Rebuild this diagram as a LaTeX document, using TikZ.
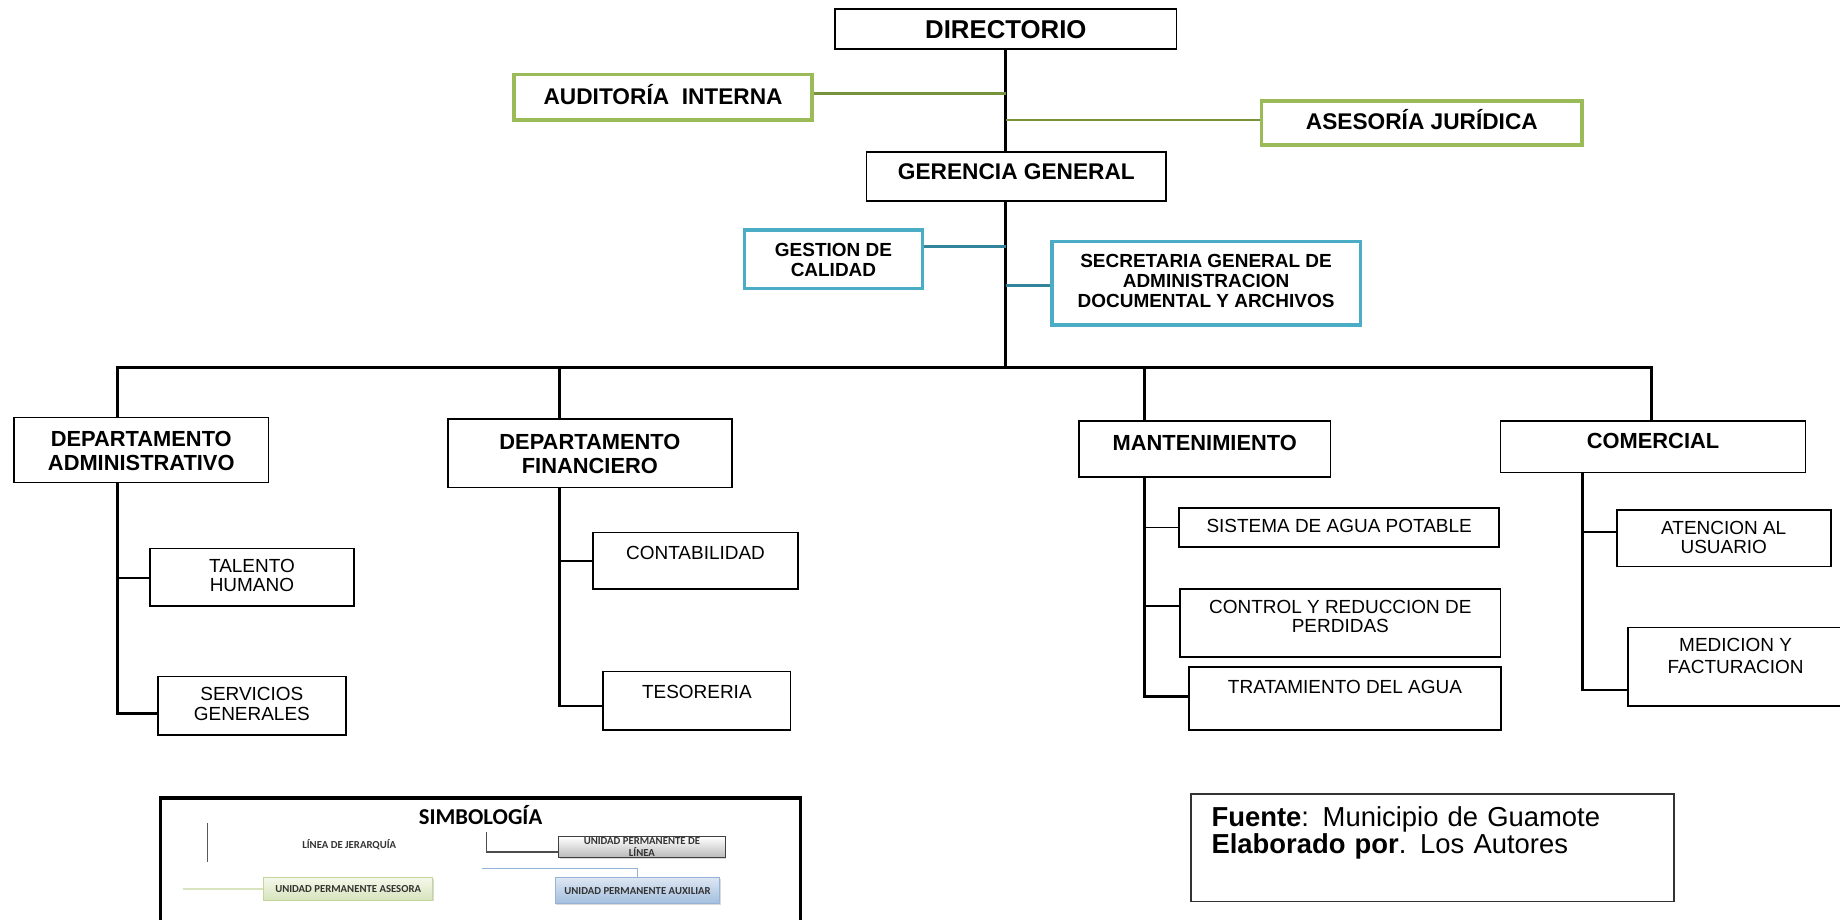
\documentclass[tikz,border=0pt]{standalone}
\usepackage{fontspec}
\setmainfont{Liberation Sans}
\newfontfamily\legfont{Carlito}
\usepackage{xcolor}
\usepackage{tikz}
\usetikzlibrary{shadows}

\definecolor{asegreen}{HTML}{9BBB59}
\definecolor{aseolive}{HTML}{77933C}
\definecolor{auxblue}{HTML}{4BACC6}
\definecolor{auxteal}{HTML}{31849B}
\definecolor{legblueA}{HTML}{DCE6F2}
\definecolor{legblueB}{HTML}{A3BEDD}
\definecolor{legblueC}{HTML}{95B3D7}
\definecolor{leggreenA}{HTML}{F4F8EA}
\definecolor{leggreenB}{HTML}{D7E4BD}
\definecolor{leggreenC}{HTML}{C3D69B}

\begin{document}
\begin{tikzpicture}[x=0.02cm, y=-0.02cm,
  orgbox/.style={draw, line width=0.8pt, anchor=north west, inner xsep=0pt, inner ysep=0pt, align=center},
  head/.style={orgbox, font=\bfseries\fontsize{11}{13}\selectfont},
  asebox/.style={orgbox, draw=asegreen, line width=1.7pt, font=\bfseries\fontsize{11}{13}\selectfont},
  auxbox/.style={orgbox, draw=auxblue, line width=1.7pt, font=\bfseries\fontsize{9.2}{9.7}\selectfont},
  dept/.style={orgbox, font=\bfseries\fontsize{10.6}{11.8}\selectfont},
  subunit/.style={orgbox, font=\fontsize{9.2}{9.3}\selectfont},
  trunk/.style={line width=1.4pt, line cap=rect},
  twig/.style={line width=0.9pt},
  aselink/.style={draw=aseolive, line width=1.2pt},
  auxlink/.style={draw=auxteal, line width=1.2pt},
  legtxt/.style={font=\legfont\bfseries\fontsize{5.2}{5.8}\selectfont, text=black!80, align=center},
  legbox/.style={legtxt, draw, line width=0.5pt, inner sep=0pt, drop shadow={shadow xshift=0.6pt, shadow yshift=-0.6pt, opacity=0.3}}]
\useasboundingbox (0,0) rectangle (1568,784);

% top of the chart
\node[head, font=\bfseries\fontsize{12.5}{15}\selectfont, minimum width=5.82cm, text height=0.502cm, text depth=0.178cm] (dir) at (711,7) {DIRECTORIO};
\node[asebox, minimum width=5.08cm, text height=0.506cm, text depth=0.272cm] (audi) at (436.6,62) {AUDITORÍA\ \ INTERNA};
\node[asebox, minimum width=5.46cm, text height=0.496cm, text depth=0.26cm] (ases) at (1073.7,84.4) {ASESORÍA JURÍDICA};
\node[head, minimum width=5.11cm, text height=0.464cm, text depth=0.372cm] (ger) at (737.7,128.7) {GERENCIA GENERAL};
\node[auxbox, minimum width=3.03cm, text height=0.787cm, text depth=0.205cm] (gest) at (633,194.6) {GESTION DE\\CALIDAD};
\node[auxbox, minimum width=5.26cm, text height=1.128cm, text depth=0.294cm] (secr) at (894.8,204.5) {SECRETARIA GENERAL DE\\ADMINISTRACION\\DOCUMENTAL Y ARCHIVOS};

% departments
\node[dept, minimum width=4.34cm, text height=0.903cm, text depth=0.207cm] (adm) at (11.2,355) {DEPARTAMENTO\\ADMINISTRATIVO};
\node[dept, minimum width=4.84cm, text height=0.931cm, text depth=0.235cm] (fin) at (381,356.4) {DEPARTAMENTO\\FINANCIERO};
\node[dept, minimum width=4.28cm, text height=0.502cm, text depth=0.458cm] (mant) at (919,358) {MANTENIMIENTO};
\node[dept, minimum width=5.2cm, text height=0.462cm, text depth=0.418cm] (com) at (1278,358) {COMERCIAL};

% units
\node[subunit, minimum width=3.48cm, text height=0.739cm, text depth=0.239cm] (tal) at (127,466.7) {TALENTO\\HUMANO};
\node[subunit, minimum width=3.21cm, text height=0.743cm, text depth=0.251cm] (serv) at (133.7,575.8) {SERVICIOS\\GENERALES};
\node[subunit, minimum width=3.50cm, text height=0.456cm, text depth=0.51cm] (cont) at (504.5,453) {CONTABILIDAD};
\node[subunit, minimum width=3.19cm, text height=0.458cm, text depth=0.536cm] (tes) at (513.4,571.5) {TESORERIA};
\node[subunit, minimum width=5.46cm, text height=0.41cm, text depth=0.25cm] (sis) at (1004,432.3) {SISTEMA DE AGUA POTABLE};
\node[subunit, minimum width=5.46cm, text height=0.743cm, text depth=0.409cm] (ctrl) at (1005,501.4) {CONTROL Y REDUCCION DE\\PERDIDAS};
\node[subunit, minimum width=5.31cm, text height=0.458cm, text depth=0.622cm] (trat) at (1012.7,567.5) {TRATAMIENTO DEL AGUA};
\node[subunit, minimum width=3.65cm, text height=0.745cm, text depth=0.221cm] (aten) at (1377,433.7) {ATENCION AL\\USUARIO};
\node[subunit, font=\fontsize{9.2}{10.6}\selectfont, minimum width=3.67cm, text height=0.785cm, text depth=0.551cm] (med) at (1386.6,534) {MEDICION Y\\FACTURACION};

% hierarchy lines
\coordinate (admx) at (100,313.5);
\coordinate (finx) at (477,313.5);
\coordinate (mantx) at (975.5,313.5);
\coordinate (comx) at (1407,313.5);
\coordinate (comy) at (1348.4,313.5);
\draw[trunk] (dir) -- (dir |- ger.north);
\draw[trunk] (dir |- ger.south) -- (dir |- admx);
\draw[trunk] (admx) -- (comx);
\draw[trunk] (admx) -- (admx |- adm.north);
\draw[trunk] (finx) -- (finx |- fin.north);
\draw[trunk] (mantx) -- (mantx |- mant.north);
\draw[trunk] (comx) -- (comx |- com.north);

\draw[aselink] (audi.east |- 0,79.5) -- (dir |- 0,79.5);
\draw[aselink] (dir |- 0,102.3) -- (ases.west |- 0,102.3);
\draw[auxlink] (gest.east |- 0,210.2) -- (dir |- 0,210.2);
\draw[auxlink] (dir |- 0,243.4) -- (secr.west |- 0,243.4);

\draw[trunk] (admx |- adm.south) |- (serv.west |- 0,608);
\draw[twig] (admx |- 0,492.8) -- (tal.west |- 0,492.8);
\draw[trunk] (finx |- fin.south) |- (tes.west |- 0,601.6);
\draw[twig] (finx |- cont.west) -- (cont.west);
\draw[trunk] (mantx |- mant.south) |- (trat.west |- 0,593.7);
\draw[twig] (mantx |- sis.west) -- (sis.west);
\draw[twig] (mantx |- 0,516.4) -- (ctrl.west |- 0,516.4);
\draw[trunk] (comy |- com.south) |- (med.west |- 0,588);
\draw[twig] (comy |- 0,453) -- (aten.west |- 0,453);

% legend
\draw[line width=1.5pt] (136.4,790) |- (682.3,680) -- (682.3,790);
\node[font=\legfont\bfseries\fontsize{11}{13}\selectfont] (simb) at (409.5,694.5) {SIMBOLOGÍA};
\draw[black!65, line width=0.6pt] (176.7,701.5) -- (176.7,734.6);
\node[legtxt] (jer) at (297.6,720) {LÍNEA DE JERARQUÍA};
\node[legbox, draw=black!75, top color=white, bottom color=black!28, minimum width=2.84cm, minimum height=0.36cm] (leglin) at (547,722) {UNIDAD PERMANENTE DE\\LÍNEA};
\node[legbox, draw=legblueC, top color=legblueA, bottom color=legblueB, minimum width=2.81cm, minimum height=0.44cm] (legaux) at (543.3,759) {UNIDAD PERMANENTE AUXILIAR};
\node[legbox, draw=leggreenC, top color=leggreenA, bottom color=leggreenB, minimum width=2.89cm, minimum height=0.38cm] (legase) at (296.7,757.5) {UNIDAD PERMANENTE ASESORA};
\coordinate (lincorner) at (414.7,708.7);
\coordinate (auxstart) at (411,740);
\coordinate (asestart) at (156,757.6);
\draw[black!70, line width=0.6pt] (lincorner) |- (leglin.west |- 0,726);
\draw[legblueC, line width=0.6pt] (auxstart) -| (legaux.north);
\draw[leggreenC, line width=0.6pt] (asestart) -- (legase.west);

% source
\node[draw=black!80, line width=0.8pt, anchor=north west, inner xsep=0.354cm, inner ysep=0pt, text width=7.526cm, align=left, text height=0.554cm, text depth=1.28cm, font=\fontsize{13.3}{13.4}\selectfont] (src) at (1014,675.8) {\textbf{Fuente}: Municipio de Guamote\\\textbf{Elaborado por}. Los Autores};
\end{tikzpicture}
\end{document}
